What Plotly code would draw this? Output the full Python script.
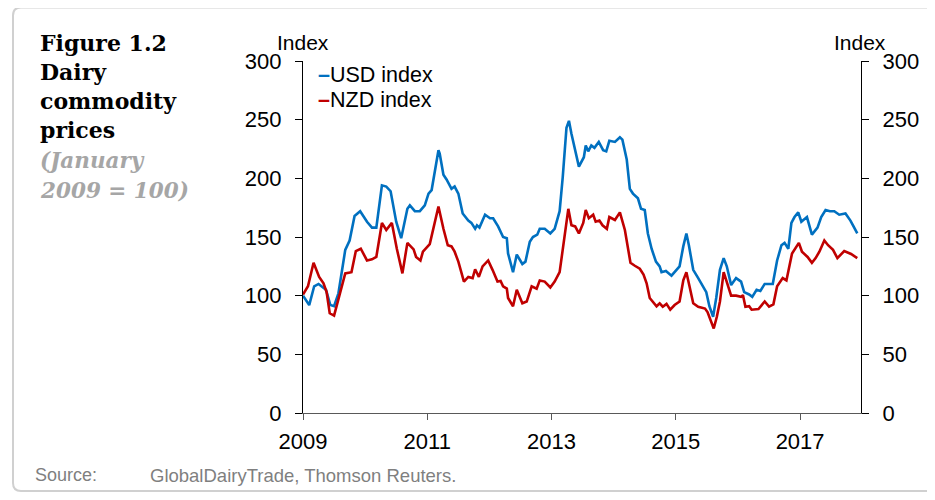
import plotly.graph_objects as go

# ---------------- data ----------------
usd_year = [2009.00, 2009.10, 2009.18, 2009.25, 2009.37, 2009.44, 2009.50, 2009.57, 2009.68, 2009.75, 2009.83, 2009.92,
            2010.03, 2010.11, 2010.18, 2010.27, 2010.34, 2010.41, 2010.50, 2010.58, 2010.68, 2010.72, 2010.80, 2010.88, 2010.96,
            2011.02, 2011.07, 2011.18, 2011.20, 2011.26, 2011.31, 2011.39, 2011.44, 2011.50, 2011.57, 2011.66, 2011.71, 2011.77, 2011.80, 2011.84, 2011.93,
            2012.01, 2012.06, 2012.14, 2012.22, 2012.28, 2012.30, 2012.38, 2012.44, 2012.53, 2012.58, 2012.65, 2012.70, 2012.77, 2012.81, 2012.89, 2012.98,
            2013.05, 2013.13, 2013.18, 2013.24, 2013.28, 2013.32, 2013.37, 2013.44, 2013.52, 2013.55, 2013.59, 2013.64, 2013.69, 2013.76, 2013.83, 2013.88, 2013.93,
            2014.02, 2014.10, 2014.14, 2014.21, 2014.26, 2014.31, 2014.39, 2014.44, 2014.50, 2014.55, 2014.61, 2014.68, 2014.74, 2014.77, 2014.84, 2014.93,
            2015.01, 2015.06, 2015.12, 2015.17, 2015.21, 2015.28, 2015.36, 2015.43, 2015.49, 2015.54, 2015.60, 2015.65, 2015.71, 2015.77, 2015.82, 2015.89, 2015.97,
            2016.05, 2016.10, 2016.18, 2016.23, 2016.30, 2016.36, 2016.43, 2016.56, 2016.63, 2016.70, 2016.75, 2016.81, 2016.86, 2016.91, 2016.97,
            2017.02, 2017.11, 2017.19, 2017.28, 2017.34, 2017.41, 2017.48, 2017.55, 2017.63, 2017.73, 2017.81, 2017.86, 2017.92]
usd_index = [100, 92, 108, 110, 105, 92, 91, 102, 139, 147, 168, 172,
             163, 158, 158, 194, 193, 189, 163, 149, 174, 177, 172, 172, 177,
             187, 190, 224, 221, 203, 199, 191, 193, 187, 170, 164, 162, 157, 160, 158, 169,
             166, 166, 159, 150, 149, 136, 120, 135, 127, 129, 146, 150, 152, 157, 157, 153,
             157, 172, 201, 243, 249, 238, 226, 210, 218, 228, 223, 228, 226, 231, 224, 223, 232,
             231, 235, 233, 216, 191, 187, 183, 174, 173, 153, 140, 129, 125, 120, 121, 117,
             122, 125, 142, 153, 143, 122, 115, 109, 103, 91, 82, 98, 122, 132, 125, 109, 115,
             112, 103, 101, 99, 105, 104, 110, 110, 130, 143, 145, 140, 162, 167, 171,
             163, 167, 152, 158, 167, 173, 172, 172, 169, 170, 164, 159, 153]

nzd_year = [2009.00, 2009.08, 2009.17, 2009.26, 2009.33, 2009.38, 2009.43, 2009.50, 2009.58, 2009.68, 2009.78, 2009.85, 2009.93,
            2010.03, 2010.11, 2010.18, 2010.27, 2010.34, 2010.43, 2010.51, 2010.60, 2010.68, 2010.78, 2010.82, 2010.89, 2010.93,
            2011.04, 2011.18, 2011.26, 2011.33, 2011.39, 2011.44, 2011.50, 2011.59, 2011.66, 2011.73, 2011.77, 2011.83, 2011.89, 2011.98,
            2012.05, 2012.13, 2012.18, 2012.22, 2012.28, 2012.30, 2012.38, 2012.44, 2012.53, 2012.60, 2012.68, 2012.76, 2012.81, 2012.89, 2012.98,
            2013.05, 2013.13, 2013.20, 2013.27, 2013.32, 2013.38, 2013.44, 2013.51, 2013.55, 2013.60, 2013.67, 2013.71, 2013.77, 2013.82, 2013.89, 2013.93,
            2014.02, 2014.10, 2014.18, 2014.23, 2014.27, 2014.34, 2014.42, 2014.48, 2014.53, 2014.58, 2014.63, 2014.69, 2014.74, 2014.79, 2014.85, 2014.91, 2014.98,
            2015.06, 2015.12, 2015.17, 2015.22, 2015.28, 2015.36, 2015.47, 2015.51, 2015.56, 2015.61, 2015.66, 2015.71, 2015.77, 2015.82, 2015.89, 2015.97,
            2016.05, 2016.08, 2016.12, 2016.18, 2016.22, 2016.33, 2016.43, 2016.50, 2016.57, 2016.63, 2016.72, 2016.78, 2016.83, 2016.87, 2016.98,
            2017.03, 2017.12, 2017.19, 2017.25, 2017.31, 2017.39, 2017.45, 2017.53, 2017.60, 2017.71, 2017.82, 2017.92]
nzd_index = [101, 108, 128, 116, 110.5, 103, 85, 83, 99, 119, 120, 138, 140,
             130, 131, 133, 162, 156, 162, 140, 119, 145, 139.5, 133, 130, 137.5,
             144, 176, 157, 143, 142, 137.5, 129, 112, 116, 115, 122.5, 116, 125, 130,
             122, 112, 112.5, 108, 106, 98, 91, 105, 93.5, 95, 108, 106, 113, 112, 107,
             112, 120, 147, 174, 160, 159, 153, 162, 173, 166, 169, 163, 164, 160, 157, 167,
             164.5, 171, 156, 140, 128, 125.5, 123, 118, 110.5, 98, 95, 91, 93.5, 90.6, 93, 88, 92,
             95, 113, 120, 108, 93.5, 90.6, 89, 86, 78, 72, 82, 95, 120, 112, 100, 100,
             99, 100.5, 90.6, 91, 88, 88.6, 95, 90.6, 92.6, 108, 115, 113, 125, 136, 145,
             137.5, 133, 128, 132, 137.5, 147, 143, 139, 132, 138, 135.5, 132]

series_names = ["USD index", "NZD index"]
series_colors = ["#0070C0", "#C00000"]

x_ticks = [2009, 2011, 2013, 2015, 2017]
x_tick_labels = ["2009", "2011", "2013", "2015", "2017"]
y_ticks = [0, 50, 100, 150, 200, 250, 300]

title_lines = ["Figure 1.2", "Dairy", "commodity", "prices"]
subtitle_lines = ["(January", "2009 = 100)"]
axis_unit = "Index"
source_label = "Source:"
source_text = "GlobalDairyTrade, Thomson Reuters."

# ---------------- layout geometry (screen pixels; page body has an 8px margin) ----------------
OFF = 8
W, H = 935 - OFF, 500 - OFF
PL, PR, PT, PB = 303, 861, 61, 413          # plot area edges on screen
L, T = PL - OFF, PT - OFF
R = W - (PR - OFF)
B = H - (PB - OFF)
PW, PH = PR - PL, PB - PT


def px(x):
    return (x - PL) / PW


def py(y):
    return (PB - y) / PH


SANS = "Liberation Sans, Arial, sans-serif"
SERIF = "DejaVu Serif, serif"

fig = go.Figure()
fig.add_trace(go.Scatter(x=usd_year, y=usd_index, mode="lines", name=series_names[0],
                         line=dict(color=series_colors[0], width=2.6), showlegend=False))
fig.add_trace(go.Scatter(x=nzd_year, y=nzd_index, mode="lines", name=series_names[1],
                         line=dict(color=series_colors[1], width=2.6), showlegend=False))
# invisible carrier so the right-hand axis is drawn
fig.add_trace(go.Scatter(x=usd_year, y=usd_index, yaxis="y2", mode="lines",
                         line=dict(width=0, color="rgba(0,0,0,0)"),
                         showlegend=False, hoverinfo="skip"))

yaxis_common = dict(range=[0, 300], tickvals=y_ticks, showgrid=False, zeroline=False,
                    showline=True, linecolor="#000000", linewidth=1.3,
                    ticks="outside", ticklen=7, tickcolor="#000000", tickwidth=1.3,
                    ticklabelstandoff=9, tickfont=dict(family=SANS, size=22, color="#000000"))

fig.update_layout(
    width=W, height=H,
    margin=dict(l=L, r=R, t=T, b=B, pad=0),
    paper_bgcolor="white", plot_bgcolor="white",
    xaxis=dict(range=[2009, 2017.98], tickvals=x_ticks, ticktext=x_tick_labels,
               showgrid=False, zeroline=False, showline=True, linecolor="#595959", linewidth=1.3,
               ticks="outside", ticklen=6, tickcolor="#595959", tickwidth=1.3,
               ticklabelstandoff=2, tickfont=dict(family=SANS, size=22, color="#000000")),
    yaxis=dict(**yaxis_common, side="left"),
    yaxis2=dict(**yaxis_common, side="right", overlaying="y"),
    showlegend=False,
)

ann = []
for txt, yy in zip(title_lines, [43, 72, 101, 130]):
    ann.append(dict(text="<b>%s</b>" % txt, x=px(38), y=py(yy), xref="paper", yref="paper",
                    xanchor="left", yanchor="middle", showarrow=False,
                    font=dict(family=SERIF, size=22, color="#000000")))
for txt, yy in zip(subtitle_lines, [160, 190]):
    ann.append(dict(text="<b><i>%s</i></b>" % txt, x=px(38), y=py(yy), xref="paper", yref="paper",
                    xanchor="left", yanchor="middle", showarrow=False,
                    font=dict(family=SERIF, size=21.5, color="#A6A6A6")))
for xx in (303, 860):
    ann.append(dict(text=axis_unit, x=px(xx), y=py(42), xref="paper", yref="paper",
                    xanchor="center", yanchor="middle", showarrow=False,
                    font=dict(family=SANS, size=21, color="#000000")))
# legend entries (short coloured dash followed by the series name)
for name, col, yy in zip(series_names, series_colors, [75, 100]):
    ann.append(dict(text="<span style='color:%s'><b>\u2013</b></span>%s" % (col, name),
                    x=px(316), y=py(yy), xref="paper", yref="paper",
                    xanchor="left", yanchor="middle", showarrow=False,
                    font=dict(family=SANS, size=21.5, color="#000000")))
ann.append(dict(text=source_label, x=px(33), y=py(475), xref="paper", yref="paper",
                xanchor="left", yanchor="middle", showarrow=False,
                font=dict(family=SANS, size=18, color="#7F7F7F")))
ann.append(dict(text=source_text, x=px(148), y=py(475), xref="paper", yref="paper",
                xanchor="left", yanchor="middle", showarrow=False,
                font=dict(family=SANS, size=18.5, color="#7F7F7F")))
fig.update_layout(annotations=ann)

# rounded frame around the figure
r = 8
path = ("M {a},{b} L {c},{b} Q {d},{b} {d},{e} L {d},{f} Q {d},{g} {c},{g} L {a},{g}").format(
    a=px(945), b=py(7.5), c=px(13 + r), d=px(13), e=py(7.5 + r), f=py(491 - r), g=py(491))
fig.add_shape(type="path", path=path, xref="paper", yref="paper",
              line=dict(color="#D0D0D0", width=2), fillcolor="rgba(0,0,0,0)")

fig.write_html("out.html")
